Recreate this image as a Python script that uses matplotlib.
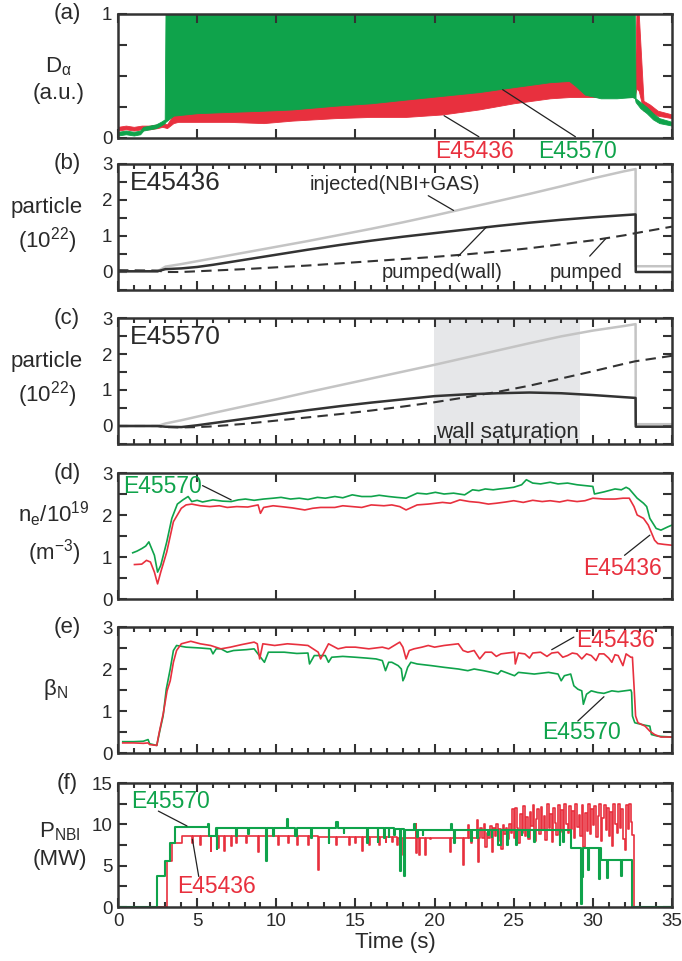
import numpy as np
import matplotlib
matplotlib.use("Agg")
import matplotlib.pyplot as plt

plt.rcParams['font.family'] = ['Liberation Sans', 'DejaVu Sans']
plt.rcParams['mathtext.fontset'] = 'custom'
plt.rcParams['mathtext.rm'] = 'Liberation Sans'
plt.rcParams['mathtext.it'] = 'Liberation Sans:italic'

RED = '#e8303e'
GREEN = '#0fa34b'
GRAY = '#c4c4c4'
DARK = '#333333'
INK = '#2a2a2a'

# ---------------- data ----------------
# (a) D-alpha, bands (time, low, high)
da_red_t = [0, 0.5, 1.0, 1.5, 2.0, 2.5, 2.8, 3.1, 3.5, 3.8, 5, 7, 9.2, 11, 13.7, 16, 18.2,
            20.5, 22.8, 25, 27.3, 28.5, 28.9, 29.5, 32.5, 32.65, 32.75, 32.9, 33.2, 33.6, 34.1, 35]
da_red_lo = [0.06, 0.07, 0.06, 0.07, 0.07, 0.08, 0.09, 0.08, 0.12, 0.13, 0.13, 0.13, 0.12, 0.14, 0.16,
             0.17, 0.17, 0.19, 0.23, 0.28, 0.32, 0.33, 0.33, 0.33, 0.33, 0.33, 0.40, 0.38, 0.22, 0.21,
             0.18, 0.16]
da_red_hi = [0.09, 0.10, 0.09, 0.10, 0.10, 0.11, 0.12, 0.11, 0.19, 0.21, 0.21, 0.22, 0.23, 0.24, 0.27,
             0.29, 0.32, 0.35, 0.38, 0.42, 0.46, 0.47, 0.43, 0.40, 0.40, 0.42, 1.0, 1.0, 0.30, 0.27,
             0.22, 0.19]
da_grn_t = [0, 0.5, 1.0, 1.4, 1.6, 2.0, 2.4, 2.7, 2.95, 3.0, 3.5, 5, 7, 9.2, 11, 13.7, 16, 18.2,
            20.5, 22.8, 25, 27.3, 28.5, 28.9, 29.5, 30.5, 31.5, 32.5, 32.65, 32.7, 33.0, 33.4, 33.8,
            34.2, 35]
da_grn_lo = [0.02, 0.03, 0.02, 0.03, 0.06, 0.07, 0.08, 0.10, 0.12, 0.13, 0.18, 0.20, 0.21, 0.22, 0.23,
             0.26, 0.28, 0.31, 0.34, 0.37, 0.41, 0.45, 0.46, 0.42, 0.35, 0.32, 0.32, 0.33, 0.32, 0.29,
             0.24, 0.20, 0.15, 0.12, 0.10]
da_grn_hi = [0.05, 0.06, 0.05, 0.06, 0.09, 0.10, 0.11, 0.13, 0.15, 1.0, 1.0, 1.0, 1.0, 1.0, 1.0,
             1.0, 1.0, 1.0, 1.0, 1.0, 1.0, 1.0, 1.0, 1.0, 1.0, 1.0, 1.0, 1.0, 1.0, 0.32,
             0.29, 0.25, 0.20, 0.16, 0.13]

# (b) E45436 particle balance (1e22)
pb_t = [0, 2.5, 3.0, 4, 5, 6, 8, 10, 12, 14, 16, 18, 20, 22, 24, 26, 28, 30, 32, 32.7, 32.71, 35]
inj_b = [0.02, 0.02, 0.15, 0.22, 0.30, 0.38, 0.54, 0.70, 0.86, 1.03, 1.20, 1.38, 1.57, 1.77, 1.97,
         2.17, 2.38, 2.60, 2.80, 2.86, 0.16, 0.16]
wall_b = [0.02, 0.02, 0.08, 0.10, 0.14, 0.20, 0.34, 0.48, 0.62, 0.75, 0.87, 0.98, 1.08, 1.18, 1.28,
          1.37, 1.45, 1.52, 1.58, 1.60, 0.0, 0.0]
pump_b = [0.05, 0.04, 0.0, 0.0, 0.02, 0.04, 0.08, 0.13, 0.18, 0.24, 0.30, 0.36, 0.42, 0.49, 0.57,
          0.66, 0.77, 0.88, 1.02, 1.08, 1.08, 1.26]

# (c) E45570 particle balance (1e22)
inj_c = [0.0, 0.0, 0.07, 0.16, 0.26, 0.36, 0.55, 0.74, 0.94, 1.13, 1.32, 1.51, 1.70, 1.90, 2.10,
         2.30, 2.49, 2.65, 2.78, 2.83, 0.05, 0.05]
wall_c = [0.0, 0.0, -0.02, -0.03, 0.02, 0.08, 0.20, 0.32, 0.44, 0.55, 0.65, 0.74, 0.83, 0.88, 0.91,
          0.93, 0.91, 0.86, 0.80, 0.78, -0.02, -0.02]
pump_c = [0.0, 0.0, -0.03, -0.04, -0.03, -0.01, 0.06, 0.15, 0.24, 0.33, 0.43, 0.54, 0.66, 0.80, 0.95,
          1.12, 1.32, 1.52, 1.73, 1.80, 1.80, 1.95]
wall_sat = [19.95, 29.2]

# (d) line-averaged density (time, value)
ne_green = [(0.93, 1.10), (1.2, 1.14), (1.5, 1.20), (1.75, 1.26), (1.95, 1.36), (2.3, 1.04), (2.5, 0.64),
            (2.7, 0.80), (3.08, 1.36), (3.4, 1.92), (3.75, 2.26), (4.1, 2.36), (4.43, 2.44), (4.66, 2.32),
            (5.0, 2.35), (5.34, 2.31), (6.0, 2.36), (6.6, 2.33), (7.15, 2.32), (7.6, 2.36), (8.05, 2.38),
            (8.6, 2.35), (9.2, 2.38), (9.8, 2.40), (10.3, 2.42), (10.9, 2.38), (11.45, 2.40), (12.0, 2.37),
            (12.6, 2.42), (13.1, 2.40), (13.7, 2.44), (14.2, 2.41), (14.8, 2.48), (15.4, 2.44), (16.0, 2.44),
            (16.5, 2.47), (17.1, 2.44), (17.6, 2.42), (18.2, 2.40), (18.9, 2.52), (19.5, 2.50), (20.05, 2.54),
            (20.6, 2.50), (21.2, 2.52), (21.9, 2.48), (22.4, 2.60), (22.8, 2.58), (23.2, 2.62), (23.7, 2.60),
            (24.1, 2.62), (24.6, 2.64), (25.0, 2.66), (25.5, 2.72), (25.8, 2.84), (26.2, 2.76), (26.7, 2.74),
            (27.3, 2.78), (27.8, 2.74), (28.4, 2.76), (29.0, 2.72), (29.5, 2.70), (30.0, 2.68), (30.1, 2.50),
            (30.7, 2.55), (31.4, 2.62), (31.8, 2.60), (32.1, 2.66), (32.3, 2.62), (32.8, 2.40), (33.2, 2.28),
            (33.4, 2.20), (33.6, 1.92), (34.0, 1.68), (34.3, 1.64), (34.75, 1.72), (35.0, 1.76)]
ne_red = [(1.04, 0.82), (1.5, 0.83), (1.8, 0.92), (2.05, 0.88), (2.3, 0.64), (2.5, 0.36), (2.7, 0.64),
          (3.08, 1.12), (3.5, 1.84), (4.0, 2.16), (4.3, 2.24), (4.66, 2.26), (5.2, 2.22), (5.8, 2.20),
          (6.4, 2.22), (6.9, 2.18), (7.5, 2.20), (8.2, 2.19), (8.85, 2.24), (9.0, 2.04), (9.2, 2.18),
          (9.8, 2.22), (10.3, 2.20), (11.0, 2.17), (11.8, 2.12), (12.3, 2.16), (12.8, 2.18), (13.7, 2.18),
          (14.2, 2.22), (14.8, 2.20), (15.4, 2.18), (16.0, 2.24), (16.8, 2.22), (17.3, 2.24), (17.8, 2.20),
          (18.2, 2.12), (18.9, 2.24), (19.6, 2.26), (20.5, 2.30), (21.0, 2.28), (21.6, 2.36), (22.2, 2.32),
          (22.8, 2.30), (23.4, 2.26), (23.9, 2.28), (24.5, 2.31), (25.0, 2.34), (25.6, 2.30), (26.2, 2.35),
          (26.8, 2.32), (27.3, 2.34), (27.9, 2.31), (28.4, 2.35), (29.0, 2.32), (29.5, 2.34), (30.0, 2.40),
          (30.7, 2.38), (31.4, 2.38), (31.9, 2.40), (32.3, 2.40), (32.6, 2.20), (32.8, 2.00), (33.2, 1.92),
          (33.5, 1.76), (33.9, 1.40), (34.1, 1.32), (34.5, 1.30), (35.0, 1.28)]

# (e) normalised beta (time, value)
bn_red = [(0.3, 0.24), (1.0, 0.24), (1.6, 0.23), (1.9, 0.24), (2.0, 0.20), (2.45, 0.18), (2.6, 0.48),
          (2.87, 0.96), (3.1, 1.48), (3.3, 1.72), (3.5, 2.16), (3.7, 2.44), (4.0, 2.60), (4.6, 2.66),
          (5.2, 2.60), (5.85, 2.56), (6.5, 2.48), (7.1, 2.52), (7.8, 2.58), (8.6, 2.64), (8.8, 2.60),
          (8.95, 2.24), (9.15, 2.60), (9.9, 2.56), (10.7, 2.60), (11.4, 2.58), (12.0, 2.56), (12.65, 2.40),
          (12.8, 2.24), (13.3, 2.60), (13.9, 2.48), (14.4, 2.52), (15.0, 2.52), (15.85, 2.48), (16.7, 2.52),
          (17.1, 2.48), (17.8, 2.64), (18.0, 2.52), (18.2, 2.24), (18.4, 2.44), (18.7, 2.48), (19.2, 2.52),
          (19.6, 2.56), (20.0, 2.52), (20.6, 2.56), (21.5, 2.60), (21.8, 2.44), (22.1, 2.40), (22.5, 2.44),
          (22.85, 2.24), (23.2, 2.40), (23.6, 2.40), (23.9, 2.30), (24.2, 2.36), (24.6, 2.38), (25.05, 2.40),
          (25.1, 2.12), (25.3, 2.38), (25.7, 2.36), (26.0, 2.26), (26.2, 2.38), (26.7, 2.40), (27.1, 2.30),
          (27.4, 2.38), (27.8, 2.40), (28.1, 2.28), (28.4, 2.32), (28.7, 2.38), (29.0, 2.36), (29.3, 2.24),
          (29.6, 2.36), (29.9, 2.32), (30.2, 2.20), (30.4, 2.36), (30.7, 2.36), (31.0, 2.26), (31.2, 2.16),
          (31.4, 2.34), (31.6, 2.32), (31.9, 2.08), (32.1, 2.36), (32.4, 2.28), (32.5, 2.28), (32.6, 1.60),
          (32.7, 0.88), (32.85, 0.72), (33.3, 0.64), (33.6, 0.52), (33.9, 0.44), (34.3, 0.38), (35.0, 0.38)]
bn_green = [(0.3, 0.27), (1.0, 0.27), (1.6, 0.28), (1.9, 0.32), (2.0, 0.22), (2.45, 0.18), (2.66, 0.56),
            (2.85, 0.88), (3.05, 1.52), (3.3, 2.00), (3.5, 2.44), (3.7, 2.56), (4.3, 2.52), (5.2, 2.50),
            (5.85, 2.48), (6.0, 2.36), (6.2, 2.48), (6.5, 2.48), (6.9, 2.40), (7.3, 2.44), (8.1, 2.46),
            (8.6, 2.48), (9.25, 2.16), (9.5, 2.40), (10.5, 2.40), (11.3, 2.37), (12.0, 2.38), (12.1, 2.12),
            (12.4, 2.32), (13.1, 2.32), (13.3, 2.16), (13.5, 2.28), (14.2, 2.30), (15.0, 2.28), (15.7, 2.26),
            (16.3, 2.24), (16.7, 2.20), (16.9, 1.96), (17.1, 2.16), (17.3, 2.16), (17.7, 2.08), (17.9, 2.00),
            (18.0, 1.72), (18.1, 1.80), (18.3, 2.04), (18.5, 2.16), (18.9, 2.12), (19.8, 2.08), (20.6, 2.04),
            (21.5, 2.00), (22.1, 1.96), (22.5, 2.00), (23.1, 1.96), (23.6, 1.92), (24.0, 1.88), (24.2, 1.96),
            (25.05, 1.84), (25.3, 1.92), (25.8, 1.90), (26.3, 1.88), (27.2, 1.92), (27.8, 1.88), (28.0, 1.72),
            (28.2, 1.84), (28.6, 1.88), (28.8, 1.60), (29.05, 1.52), (29.3, 1.48), (29.4, 1.16), (29.6, 1.40),
            (29.9, 1.48), (30.3, 1.44), (30.7, 1.42), (31.2, 1.48), (31.6, 1.46), (32.0, 1.48), (32.4, 1.50),
            (32.45, 1.44), (32.5, 0.88), (32.65, 0.72), (33.3, 0.66), (33.6, 0.64), (33.7, 0.44),
            (34.1, 0.40), (35.0, 0.38)]

# (f) NBI power, stepwise (time, MW)
pnbi_green = [(0, 0), (2.45, 3.7), (2.98, 5.6), (3.3, 7.8), (3.62, 9.65), (5.7, 10.0), (5.75, 8.6),
              (6.2, 9.6), (6.23, 7.0), (6.28, 9.6), (7.45, 8.6), (7.5, 9.6), (8.2, 8.8), (8.25, 9.6),
              (9.36, 5.6), (9.42, 9.6), (9.8, 8.6), (9.85, 9.6), (10.7, 10.6), (10.75, 9.6), (11.2, 8.6),
              (11.28, 9.6), (12.2, 8.4), (12.25, 9.55), (13.3, 7.8), (13.35, 9.55), (13.8, 10.3),
              (13.9, 9.55), (14.25, 9.0), (14.3, 9.5), (15.75, 7.8), (15.8, 9.5), (16.4, 7.9), (16.45, 9.5),
              (16.8, 8.3), (16.85, 9.5), (17.1, 8.5), (17.15, 9.5), (17.45, 8.7), (17.5, 9.4), (17.8, 4.3),
              (17.85, 9.4), (18.06, 3.7), (18.12, 9.3), (18.7, 10.1), (18.75, 9.3), (18.9, 8.5),
              (18.95, 9.3), (19.26, 8.7), (19.3, 9.3), (21.05, 10.1), (21.1, 9.3), (21.2, 7.7), (21.3, 9.3),
              (22.3, 8.0), (22.35, 9.3), (22.7, 8.3), (22.75, 9.3), (23.4, 8.7), (23.45, 9.3), (23.6, 8.5),
              (23.65, 9.3), (24.0, 7.5), (24.2, 9.3), (24.6, 7.5), (24.65, 9.3), (25.15, 7.5), (25.2, 9.3),
              (25.5, 8.7), (25.55, 9.3), (25.9, 8.5), (25.95, 9.3), (26.3, 7.9), (26.35, 9.3), (27.9, 7.5),
              (27.95, 9.3), (28.1, 7.9), (28.15, 9.3), (28.6, 7.1), (29.26, 0.4), (29.32, 3.6), (29.4, 7.1),
              (29.7, 4.5), (29.75, 7.1), (30.4, 3.4), (30.45, 7.1), (30.5, 5.7), (30.9, 3.5), (30.95, 5.7),
              (31.8, 3.7), (31.85, 5.7), (32.5, 0.0), (35, 0.0)]
pnbi_red = [(0, 0), (3.09, 5.6), (3.4, 7.8), (4.04, 8.57), (4.7, 7.7), (4.75, 8.55), (5.2, 7.5),
            (5.25, 8.55), (5.85, 6.8), (5.9, 8.55), (6.3, 7.1), (6.35, 8.55), (6.7, 6.8), (6.75, 8.55),
            (7.13, 7.4), (7.18, 8.55), (7.45, 7.7), (7.5, 8.55), (8.1, 7.7), (8.15, 8.55), (8.83, 6.6),
            (8.9, 8.55), (10.1, 7.5), (10.15, 8.55), (10.75, 7.7), (10.8, 8.55), (11.3, 7.5), (11.35, 8.55),
            (12.0, 7.5), (12.05, 8.55), (12.66, 4.5), (12.72, 8.5), (13.3, 7.7), (13.35, 8.5), (13.8, 7.5),
            (13.85, 8.5), (14.6, 7.5), (14.65, 8.5), (15.0, 7.7), (15.05, 8.5), (15.4, 6.8), (15.45, 8.5),
            (15.85, 7.5), (15.9, 8.5), (16.5, 7.5), (16.55, 8.5), (16.9, 7.9), (16.95, 8.5), (17.3, 7.9),
            (17.35, 8.5), (17.65, 7.5), (17.7, 8.4), (18.0, 6.3), (18.1, 8.4), (18.8, 10.1), (18.85, 6.5),
            (18.9, 8.4), (19.0, 6.3), (19.1, 8.4), (19.4, 6.3), (19.45, 8.4), (19.7, 8.2), (19.75, 8.4),
            (21.0, 6.7), (21.05, 8.4), (21.8, 5.1), (21.85, 8.4), (22.1, 9.9), (22.15, 8.4), (22.3, 7.7),
            (22.35, 8.4), (22.7, 10.5), (22.75, 5.5), (22.8, 8.4)]
# fluctuating part of E45436 NBI power, one value every 0.1 s from 22.9 s
pnbi_red_noise_t0 = 22.9
pnbi_red_noise = [9.6, 8.4, 10.1, 7.2, 9.0, 8.4, 9.8, 6.7, 9.5, 8.6,
                  10.0, 8.0, 9.4, 7.0, 9.9, 8.8, 9.6, 8.2, 10.1, 9.0,
                  11.8, 8.3, 12.0, 9.5, 7.8, 11.2, 9.0, 12.2, 8.6, 10.9,
                  8.2, 11.5, 9.8, 12.3, 8.0, 10.6, 11.9, 8.8, 12.1, 9.3,
                  11.0, 8.1, 12.4, 9.6, 11.3, 7.9, 12.0, 10.2, 8.7, 12.3,
                  9.1, 11.7, 8.4, 12.5, 10.0, 8.9, 12.2, 9.4, 11.6, 8.3,
                  12.4, 9.7, 11.1, 8.6, 12.3, 7.3, 11.4, 9.2, 12.5, 8.8,
                  11.9, 9.9, 12.2, 8.5, 11.0, 12.4, 8.0, 10.8, 12.3, 9.3,
                  12.0, 8.6, 11.5, 7.4, 12.4, 10.1, 8.9, 12.5, 9.6, 11.8,
                  8.2, 6.9, 12.3, 9.4, 12.5, 10.3, 8.7]
pnbi_red_end = [(32.57, 0.0), (35, 0.0)]


def unzip(pairs):
    a = np.array(pairs, dtype=float)
    return a[:, 0], a[:, 1]


# ---------------- layout ----------------
fig = plt.figure(figsize=(6.82, 9.61), dpi=100)
W, H = 682.0, 961.0
left, width = 118 / W, 554 / W
boxes = [(14, 138), (164, 290), (318, 444), (473, 599), (627, 753), (783, 907)]
axs = [fig.add_axes([left, 1 - b / H, width, (b - t) / H]) for t, b in boxes]

TICK_FS = 13.5
LAB_FS = 16
TAG_FS = 16.5


def style(ax, yticks, ylabels, minor_x=True):
    ax.set_xlim(0, 35)
    ax.set_xticks(np.arange(0, 36, 5))
    if minor_x:
        ax.set_xticks(np.arange(0, 36, 1), minor=True)
    ax.set_yticks(yticks)
    ax.set_yticklabels(ylabels)
    ax.tick_params(which='both', direction='in', top=True, right=True, colors=DARK,
                   labelcolor=INK, labelsize=TICK_FS, width=1.5)
    ax.tick_params(which='major', length=6.5, pad=4)
    ax.tick_params(which='minor', length=3.5)
    for s in ax.spines.values():
        s.set_linewidth(1.8)
        s.set_color(DARK)
    ax.tick_params(axis='x', labelbottom=False)


def side_labels(ax, tag, label, xlab, ylab=0.5):
    ax.text(-0.092, 1.0, tag, transform=ax.transAxes, ha='center', va='center',
            fontsize=LAB_FS, color=INK)
    ax.text(xlab, ylab, label, transform=ax.transAxes, ha='center', va='center',
            fontsize=LAB_FS, color=INK, linespacing=1.35)


def leader(ax, p0, p1):
    ax.annotate('', xy=p1, xytext=p0,
                arrowprops=dict(arrowstyle='-', color='#222222', lw=0.9,
                                shrinkA=0, shrinkB=0))


# (a) D-alpha
ax = axs[0]
ax.fill_between(da_red_t, da_red_lo, da_red_hi, color=RED, lw=0.6, edgecolor=RED)
ax.fill_between(da_grn_t, da_grn_lo, da_grn_hi, color=GREEN, lw=0.6, edgecolor=GREEN)
ax.set_ylim(0, 1)
style(ax, [0, 0.25, 0.5, 0.75, 1], ['0', '', '', '', '1'], minor_x=False)
side_labels(ax, '(a)', 'D$_\\mathregular{\u03b1}$\n(a.u.)', -0.108, 0.47)
leader(ax, (20.6, 0.18), (22.8, 0.01))
leader(ax, (24.3, 0.39), (28.9, 0.01))
ax.text(22.5, -0.11, 'E45436', color=RED, fontsize=TAG_FS, ha='center', va='center', clip_on=False)
ax.text(29.0, -0.11, 'E45570', color=GREEN, fontsize=TAG_FS, ha='center', va='center', clip_on=False)

# (b) and (c) particle balance
for ax, inj, wall, pump, tag, shot in [(axs[1], inj_b, wall_b, pump_b, '(b)', 'E45436'),
                                         (axs[2], inj_c, wall_c, pump_c, '(c)', 'E45570')]:
    if shot == 'E45570':
        ax.axvspan(wall_sat[0], wall_sat[1], color='#e6e7e9', lw=0, zorder=0)
    ax.plot(pb_t, inj, color=GRAY, lw=1.8)
    ax.plot(pb_t, wall, color=DARK, lw=1.8)
    ax.plot(pb_t, pump, color=DARK, lw=1.5, dashes=(5, 3))
    ax.set_ylim(-0.5, 3)
    style(ax, [-0.5, 0, 0.5, 1, 1.5, 2, 2.5, 3], ['', '0', '', '1', '', '2', '', '3'])
    side_labels(ax, tag, 'particle\n(10$^\\mathregular{22}$)', -0.128, 0.505)
    ax.text(0.75, 2.47, shot, color=INK, fontsize=19, ha='left', va='center')

ax = axs[1]
ax.text(17.5, 2.44, 'injected(NBI+GAS)', color=INK, fontsize=14.5, ha='center', va='center')
leader(ax, (19.6, 2.12), (21.2, 1.71))
ax.text(20.5, 0.0, 'pumped(wall)', color=INK, fontsize=14.5, ha='center', va='center')
leader(ax, (21.5, 0.44), (23.3, 1.26))
ax.text(29.6, 0.0, 'pumped', color=INK, fontsize=14.5, ha='center', va='center')
leader(ax, (29.8, 0.44), (30.8, 0.92))
axs[2].text(24.6, -0.17, 'wall saturation', color=INK, fontsize=16, ha='center', va='center')

# (d) density
ax = axs[3]
t, v = unzip(ne_green)
ax.plot(t, v, color=GREEN, lw=1.2)
t, v = unzip(ne_red)
ax.plot(t, v, color=RED, lw=1.2)
ax.set_ylim(0, 3)
style(ax, [0, 0.5, 1, 1.5, 2, 2.5, 3], ['0', '', '1', '', '2', '', '3'], minor_x=False)
side_labels(ax, '(d)', 'n$_\\mathregular{e}$/10$^\\mathregular{19}$\n(m$^\\mathregular{-3}$)', -0.115, 0.52)
ax.text(2.8, 2.68, 'E45570', color=GREEN, fontsize=TAG_FS, ha='center', va='center')
leader(ax, (5.34, 2.7), (7.15, 2.36))
ax.text(31.85, 0.72, 'E45436', color=RED, fontsize=TAG_FS, ha='center', va='center')
leader(ax, (32.0, 1.04), (33.6, 1.52))

# (e) beta_N
ax = axs[4]
t, v = unzip(bn_green)
ax.plot(t, v, color=GREEN, lw=1.2)
t, v = unzip(bn_red)
ax.plot(t, v, color=RED, lw=1.2)
ax.set_ylim(0, 3)
style(ax, [0, 0.5, 1, 1.5, 2, 2.5, 3], ['0', '', '1', '', '2', '', '3'])
side_labels(ax, '(e)', '\u03b2$_\\mathregular{N}$', -0.113, 0.505)
ax.text(31.45, 2.68, 'E45436', color=RED, fontsize=TAG_FS, ha='center', va='center')
leader(ax, (27.4, 2.46), (28.8, 2.76))
ax.text(29.3, 0.48, 'E45570', color=GREEN, fontsize=TAG_FS, ha='center', va='center')
leader(ax, (29.05, 0.76), (30.7, 1.34))

# (f) NBI power
ax = axs[5]
t, v = unzip(pnbi_red)
tn = pnbi_red_noise_t0 + 0.1 * np.arange(len(pnbi_red_noise))
te, ve = unzip(pnbi_red_end)
ax.plot(np.concatenate([t, tn, te]), np.concatenate([v, pnbi_red_noise, ve]),
        color=RED, lw=1.2, drawstyle='steps-post')
t, v = unzip(pnbi_green)
ax.plot(t, v, color=GREEN, lw=1.5, drawstyle='steps-post')
ax.set_ylim(0, 15)
style(ax, [0, 2.5, 5, 7.5, 10, 12.5, 15], ['0', '', '5', '', '10', '', '15'])
ax.tick_params(axis='x', labelbottom=True)
side_labels(ax, '(f)', 'P$_\\mathregular{NBI}$\n(MW)', -0.105, 0.50)
ax.text(3.3, 12.8, 'E45570', color=GREEN, fontsize=TAG_FS, ha='center', va='center')
leader(ax, (2.55, 11.6), (4.36, 9.8))
ax.text(6.2, 2.5, 'E45436', color=RED, fontsize=TAG_FS, ha='center', va='center')
leader(ax, (5.1, 3.7), (4.7, 8.2))
ax.set_xlabel('Time (s)', fontsize=16, color=INK, labelpad=2)

fig.savefig('out.png', dpi=100)
